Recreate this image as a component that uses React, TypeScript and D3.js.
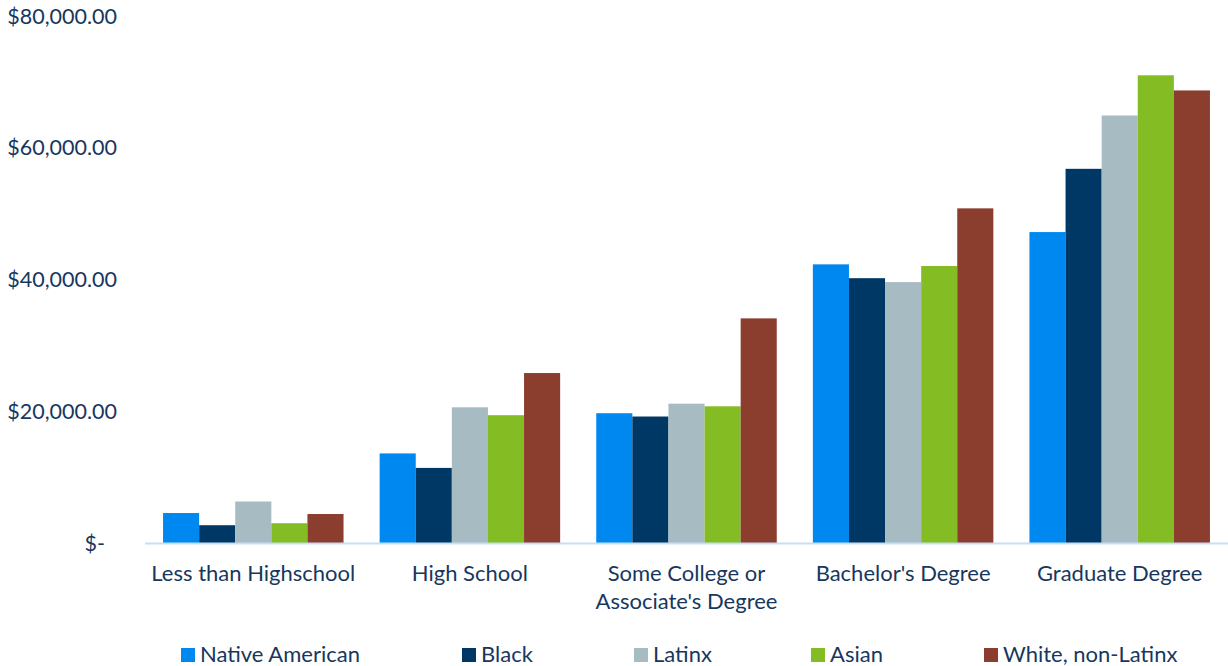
import React from "react";
import * as d3 from "d3";

const categories = ["Less than Highschool", "High School", "Some College or|Associate's Degree", "Bachelor's Degree", "Graduate Degree"];
const seriesNames = ["Native American", "Black", "Latinx", "Asian", "White, non-Latinx"];
const seriesColors = ["#0088F1", "#003865", "#A7BBC2", "#84BC24", "#8B3D2E"];
const nativeAmerican = [4550, 13600, 19700, 42300, 47200];
const black = [2700, 11400, 19200, 40200, 56800];
const latinx = [6300, 20600, 21150, 39600, 64900];
const asian = [3000, 19400, 20750, 42050, 71000];
const white = [4400, 25800, 34100, 50800, 68700];
const seriesValues = [nativeAmerican, black, latinx, asian, white];
const yTicks = [0, 20000, 40000, 60000, 80000];
const yTickLabels = ["$-", "$20,000.00", "$40,000.00", "$60,000.00", "$80,000.00"];

const W = 1228;
const H = 666;
const left = 145;
const right = 1228;
const top = 16;
const bottom = 543;
const textColor = "#17375E";
const font = "Lato, 'Open Sans', sans-serif";

export default function App() {
  const x0 = d3.scaleBand<number>().domain(d3.range(categories.length)).range([left, right]).paddingInner(0.1667).paddingOuter(0.0833);
  const x1 = d3.scaleBand<number>().domain(d3.range(seriesNames.length)).range([0, x0.bandwidth()]);
  const y = d3.scaleLinear().domain([0, 80000]).range([bottom, top]);
  const legendX = [181, 462, 634, 811, 984];

  return (
    <svg width={W} height={H} style={{ position: "absolute", left: 0, top: 0 }} fontFamily={font}>
      {yTicks.map((t, i) => (
        <text key={t} x={i === 0 ? 105 : 117} y={y(t)} dy="0.35em" textAnchor="end" fontSize={21.5} fill={textColor}>
          {yTickLabels[i]}
        </text>
      ))}
      {categories.map((c, ci) => (
        <g key={c} transform={`translate(${x0(ci)},0)`}>
          {seriesValues.map((vals, si) => (
            <rect key={si} x={x1(si)} y={y(vals[ci])} width={x1.bandwidth()} height={bottom - y(vals[ci])} fill={seriesColors[si]} />
          ))}
        </g>
      ))}
      <line x1={left} x2={right} y1={bottom + 0.5} y2={bottom + 0.5} stroke="#C5DFF6" strokeWidth={2} />
      {categories.map((c, ci) => {
        const lines = c.split("|");
        const cx = (x0(ci) as number) + x0.bandwidth() / 2;
        return (
          <text key={c} x={cx} textAnchor="middle" fontSize={22} fill={textColor}>
            {lines.map((l, li) => (
              <tspan key={li} x={cx} y={581 + li * 28}>{l}</tspan>
            ))}
          </text>
        );
      })}
      {seriesNames.map((s, si) => (
        <g key={s}>
          <rect x={legendX[si]} y={648} width={14} height={14} fill={seriesColors[si]} />
          <text x={legendX[si] + 19} y={662} fontSize={22} fill={textColor}>{s}</text>
        </g>
      ))}
    </svg>
  );
}
